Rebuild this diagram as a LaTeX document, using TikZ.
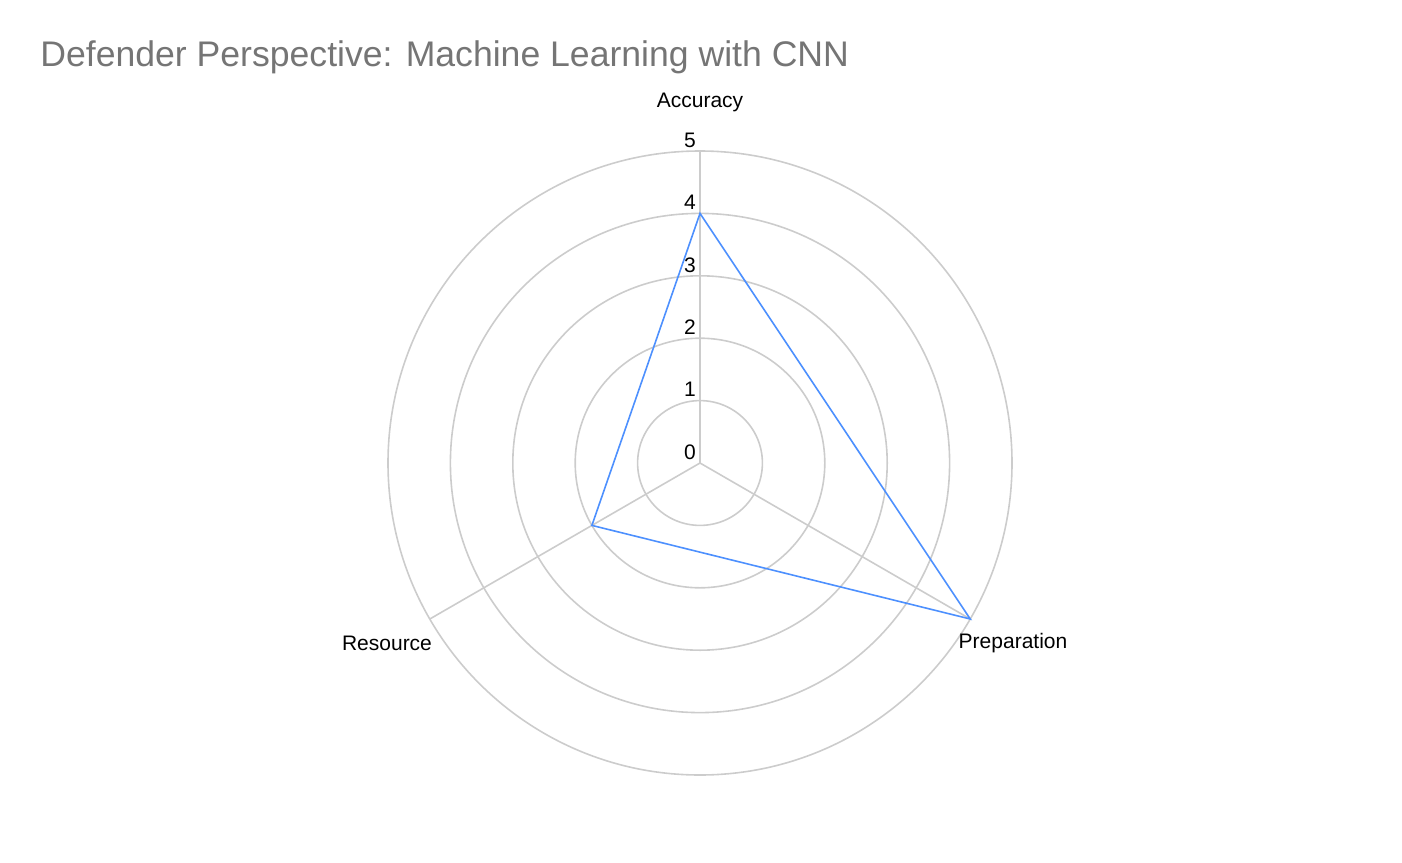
\documentclass[tikz,border=0pt]{standalone}
\usepackage{fontspec}
\setmainfont{Liberation Sans}
\definecolor{gridgray}{RGB}{204,204,204}
\definecolor{datablue}{RGB}{77,144,254}
\definecolor{titlegray}{RGB}{117,117,117}

\begin{document}
\begin{tikzpicture}[x=0.5pt,y=-0.5pt]
\useasboundingbox (0,0) rectangle (1402,862);
\tikzset{axislabel/.style={font=\fontsize{10.5}{12}\selectfont, inner sep=1pt}}

\node[anchor=west, text=titlegray, font=\fontsize{17.8}{21}\selectfont, inner sep=0pt] (title) at (40,57) {Defender Perspective: Machine Learning with CNN};

\coordinate (c) at (700,463);
\foreach \r in {1,...,5}
  \draw[gridgray, thick] (c) circle[radius=62.4*\r];
\draw[gridgray, thick] (c) -- ++(0,-312) coordinate (topend);
\draw[gridgray, thick] (c) -- ++(270.2,156) coordinate (rightend);
\draw[gridgray, thick] (c) -- ++(-270.2,156) coordinate (leftend);

\foreach \r in {0,...,5}
  \node[axislabel, fill=white, inner sep=0.5pt] (tick\r) at (690,452-62.4*\r) {\r};

\node[axislabel] (accuracy) at (700,102) {Accuracy};
\node[axislabel] (preparation) at (1013,643) {Preparation};
\node[axislabel] (resource) at (387,643) {Resource};

\coordinate (accval) at (700,213.4);
\coordinate (prepval) at (970.2,619);
\coordinate (resval) at (591.9,525.4);
\draw[datablue, thick] (accval) -- (prepval) -- (resval) -- cycle;
\end{tikzpicture}
\end{document}
